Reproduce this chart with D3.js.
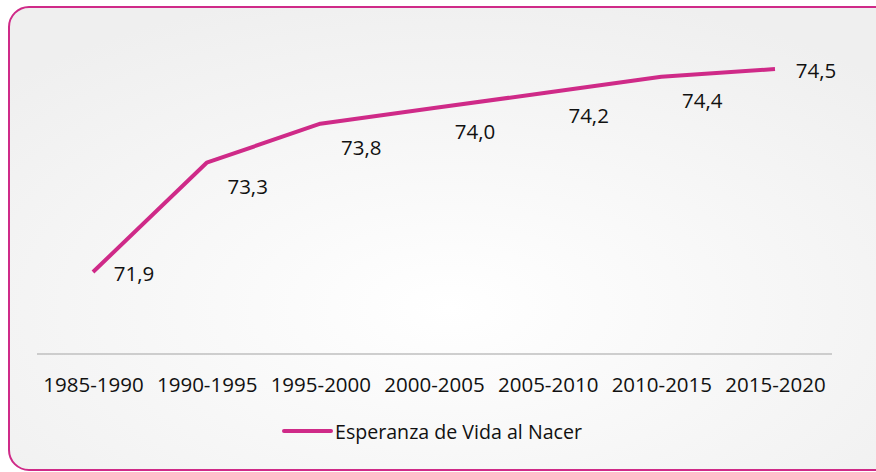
<!DOCTYPE html>
<html>
<head>
<meta charset="utf-8">
<script src="https://cdn.jsdelivr.net/npm/d3@7"></script>
<style>
  html, body { margin: 0; background: #fff; overflow: hidden; }
  svg { display: block; font-family: "Open Sans", sans-serif; }
</style>
</head>
<body>
<div id="chart"></div>
<script>
// data
const periods = ["1985-1990", "1990-1995", "1995-2000", "2000-2005", "2005-2010", "2010-2015", "2015-2020"];
const lifeExpectancy = [71.9, 73.3, 73.8, 74.0, 74.2, 74.4, 74.5];
const seriesName = "Esperanza de Vida al Nacer";

const width = 876;
const height = 472;
const color = "#cf2a88";

const svg = d3.select("#chart").append("svg")
  .attr("width", width)
  .attr("height", height);

// soft gray background, whiter towards the middle
const defs = svg.append("defs");
const grad = defs.append("radialGradient")
  .attr("id", "bg")
  .attr("cx", "50%").attr("cy", "65%").attr("r", "70%");
grad.append("stop").attr("offset", "0%").attr("stop-color", "#ffffff");
grad.append("stop").attr("offset", "100%").attr("stop-color", "#efefef");

// frame runs off the right edge of the picture
svg.append("path")
  .attr("d", "M 890 7 H 29 A 20 20 0 0 0 9 27 V 450 A 20 20 0 0 0 29 470 H 890 Z")
  .attr("fill", "url(#bg)")
  .attr("stroke", color)
  .attr("stroke-width", 2);

const x = d3.scalePoint()
  .domain(periods)
  .range([93, 775]);

const y = d3.scaleLinear()
  .domain([70.85, 75])
  .range([354, 30]);

// category axis
const xAxis = svg.append("g")
  .attr("transform", `translate(0, ${y(70.85)})`)
  .call(d3.axisBottom(x).tickSize(0).tickPadding(23));

xAxis.select(".domain").remove();
xAxis.append("line")
  .attr("x1", 37)
  .attr("x2", 832)
  .attr("stroke", "#bfbfbf")
  .attr("stroke-width", 1.5);

xAxis.selectAll(".tick text")
  .attr("fill", "#111")
  .style("font-size", "20.5px")
  .style("font-family", "'Open Sans', sans-serif");

// the line
const line = d3.line()
  .x((d, i) => x(periods[i]))
  .y(d => y(d));

svg.append("path")
  .datum(lifeExpectancy)
  .attr("fill", "none")
  .attr("stroke", color)
  .attr("stroke-width", 4)
  .attr("stroke-linejoin", "round")
  .attr("d", line);

// value labels: first and last sit to the right, the rest below-right
const last = lifeExpectancy.length - 1;
svg.selectAll(".label")
  .data(lifeExpectancy)
  .enter()
  .append("text")
  .attr("class", "label")
  .attr("x", (d, i) => x(periods[i]) + 41)
  .attr("y", (d, i) => y(d) + (i === 0 || i === last ? 1 : 23))
  .attr("text-anchor", "middle")
  .attr("dominant-baseline", "central")
  .attr("fill", "#111")
  .style("font-size", "20.5px")
  .text(d => d.toFixed(1).replace(".", ","));

// legend
const legend = svg.append("g")
  .attr("transform", "translate(284, 431)");

legend.append("line")
  .attr("x1", 0)
  .attr("x2", 47)
  .attr("stroke", color)
  .attr("stroke-width", 4)
  .attr("stroke-linecap", "round");

legend.append("text")
  .attr("x", 51)
  .attr("y", 0)
  .attr("dominant-baseline", "central")
  .attr("fill", "#111")
  .style("font-size", "19.6px")
  .text(seriesName);
</script>
</body>
</html>
